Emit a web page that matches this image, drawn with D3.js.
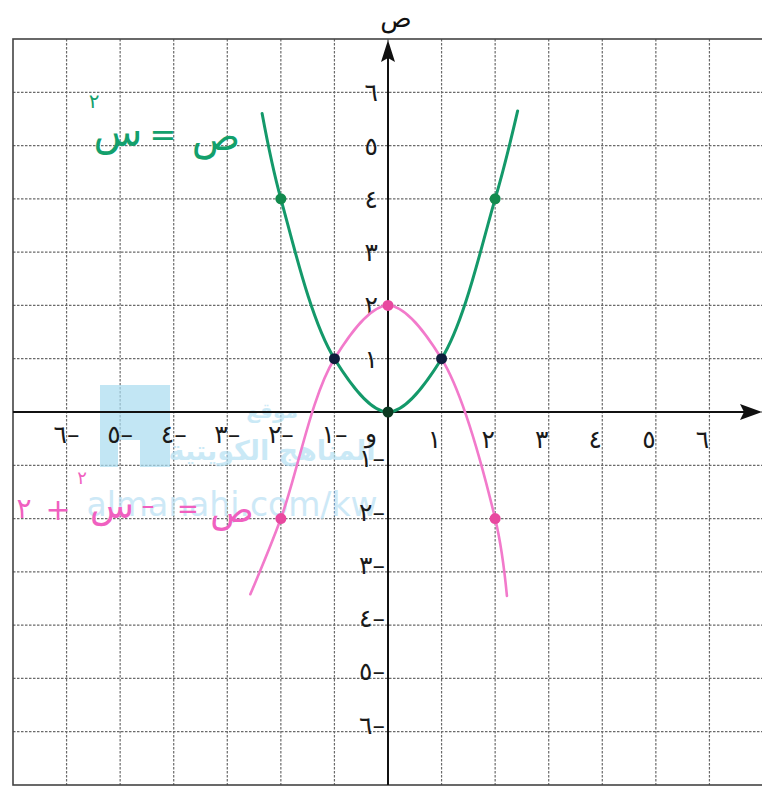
<!DOCTYPE html>
<html>
<head>
<meta charset="utf-8">
<script src="https://cdn.jsdelivr.net/npm/d3@7"></script>
<style>
  html, body { margin: 0; padding: 0; background: #fff; }
  svg { display: block; }
  text { font-family: "DejaVu Sans", "Noto Sans", sans-serif; }
</style>
</head>
<body>
<svg id="chart" width="762" height="791"></svg>
<script>
// Grid range (units) and tick values
const gridMin = -7, gridMax = 7;
const tickValues = [-6, -5, -4, -3, -2, -1, 1, 2, 3, 4, 5, 6];
const posLabels = ["١", "٢", "٣", "٤", "٥", "٦"];
const negLabels = ["١–", "٢–", "٣–", "٤–", "٥–", "٦–"];

// ص = س²  (points plotted and the hand-drawn curve through them)
const greenCurve = [[-2.35, 5.6], [-2, 4], [-1, 1], [0, 0], [1, 1], [2, 4], [2.42, 5.65]];
const greenDots = [[-2, 4], [2, 4]];
// ص = -س² + ٢
const pinkCurve = [[-2.57, -3.42], [-2, -2], [-1, 1], [0, 2], [1, 1], [2, -2], [2.22, -3.45]];
const pinkDots = [[0, 2], [-2, -2], [2, -2]];
// points shared by both curves, plus the vertex of the first
const crossDots = [[-1, 1], [1, 1]];
const vertexDots = [[0, 0]];

const svg = d3.select("#chart");
const x = d3.scaleLinear().domain([gridMin, gridMax]).range([13, 763]);
const y = d3.scaleLinear().domain([gridMax, gridMin]).range([39, 785]);

// keep digit-then-dash order on screen
const ltr = s => "\u202D" + s + "\u202C";

// dashed grid
const grid = svg.append("g");
grid.selectAll("line.v").data(d3.range(gridMin + 1, gridMax)).join("line")
  .attr("x1", d => x(d)).attr("x2", d => x(d))
  .attr("y1", y(gridMax)).attr("y2", y(gridMin))
  .attr("stroke", "#6a6a6a").attr("stroke-width", 1.2).attr("stroke-dasharray", "2.5,1.5");
grid.selectAll("line.h").data(d3.range(gridMin + 1, gridMax)).join("line")
  .attr("y1", d => y(d)).attr("y2", d => y(d))
  .attr("x1", x(gridMin)).attr("x2", x(gridMax))
  .attr("stroke", "#6a6a6a").attr("stroke-width", 1.2).attr("stroke-dasharray", "2.5,1.5");
// frame
svg.append("rect")
  .attr("x", x(gridMin)).attr("y", y(gridMax))
  .attr("width", x(gridMax) - x(gridMin)).attr("height", y(gridMin) - y(gridMax))
  .attr("fill", "none").attr("stroke", "#444").attr("stroke-width", 1.6);

// watermark
const wm = svg.append("g").attr("opacity", 0.7);
wm.append("path")
  .attr("d", "M100,385 H170 V467 H140 V440 H118 V467 H100 Z")
  .attr("fill", "#a9dcf0");
wm.append("text").attr("x", 272).attr("y", 418).attr("text-anchor", "middle")
  .attr("font-size", 20).attr("font-weight", "bold").attr("fill", "#b5e1f3").text("موقع");
wm.append("text").attr("x", 272).attr("y", 460).attr("text-anchor", "middle")
  .attr("font-size", 27).attr("font-weight", "bold").attr("fill", "#b5e1f3").text("المناهج الكويتية");
wm.append("text").attr("x", 232).attr("y", 516).attr("text-anchor", "middle")
  .attr("font-size", 33).attr("fill", "#b9e0f4").text("almanahj.com/kw");

// axes with arrowheads
const x0 = x(0), y0 = y(0);
svg.append("line").attr("x1", x(gridMin)).attr("x2", 748).attr("y1", y0).attr("y2", y0)
  .attr("stroke", "#111").attr("stroke-width", 2);
svg.append("path").attr("d", `M762,${y0} L740,${y0 - 8} L744,${y0} L740,${y0 + 8} Z`).attr("fill", "#111");
svg.append("line").attr("x1", x0).attr("x2", x0).attr("y1", y(gridMin)).attr("y2", 55)
  .attr("stroke", "#111").attr("stroke-width", 2);
svg.append("path").attr("d", `M${x0},40 L${x0 - 7},62 L${x0},58 L${x0 + 7},62 Z`).attr("fill", "#111");
svg.append("text").attr("x", x0 + 8).attr("y", 27).attr("text-anchor", "middle")
  .attr("font-size", 26).attr("fill", "#111").text("ص");

// tick labels
const lab = svg.append("g").attr("fill", "#1a1a1a").attr("font-size", 25);
tickValues.forEach(v => {
  const i = Math.abs(v) - 1;
  if (v > 0) {
    lab.append("text").attr("x", x(v) - 7).attr("y", y0 + 36).attr("text-anchor", "middle").text(posLabels[i]);
    lab.append("text").attr("x", x0 - 10).attr("y", y(v) + 9).attr("text-anchor", "end").text(posLabels[i]);
  } else {
    lab.append("text").attr("x", x(v)).attr("y", y0 + 31).attr("text-anchor", "middle")
      .attr("direction", "ltr").text(ltr(negLabels[i]));
    lab.append("text").attr("x", x0 - 3).attr("y", y(v) + 2).attr("text-anchor", "end")
      .attr("direction", "ltr").text(ltr(negLabels[i]));
  }
});
lab.append("text").attr("x", x0 - 17).attr("y", y0 + 30).attr("text-anchor", "middle").text("و");

// curves
const line = d3.line().x(d => x(d[0])).y(d => y(d[1])).curve(d3.curveCatmullRom.alpha(0.5));
svg.append("path").datum(pinkCurve).attr("d", line)
  .attr("fill", "none").attr("stroke", "#f27acb").attr("stroke-width", 2.6).attr("stroke-linecap", "round");
svg.append("path").datum(greenCurve).attr("d", line)
  .attr("fill", "none").attr("stroke", "#14996a").attr("stroke-width", 3).attr("stroke-linecap", "round");

// plotted points
const dot = (data, color) => svg.append("g").selectAll("circle").data(data).join("circle")
  .attr("cx", d => x(d[0])).attr("cy", d => y(d[1])).attr("r", 5.5).attr("fill", color);
dot(pinkDots, "#e8489f");
dot(greenDots, "#138a4e");
dot(crossDots, "#0f1e3c");
dot(vertexDots, "#0c3a22");

// equation labels
const green = svg.append("g").attr("fill", "#13a06c");
green.append("text").attr("x", 216).attr("y", 150).attr("text-anchor", "middle").attr("font-size", 40).text("ص");
green.append("text").attr("x", 163).attr("y", 146).attr("text-anchor", "middle").attr("font-size", 32).text("=");
green.append("text").attr("x", 118).attr("y", 146).attr("text-anchor", "middle").attr("font-size", 40).text("س");
green.append("text").attr("x", 94).attr("y", 108).attr("text-anchor", "middle").attr("font-size", 20).text("٢");

const pink = svg.append("g").attr("fill", "#f060c0");
pink.append("text").attr("x", 232).attr("y", 522).attr("text-anchor", "middle").attr("font-size", 36).text("ص");
pink.append("text").attr("x", 188).attr("y", 518).attr("text-anchor", "middle").attr("font-size", 26).text("=");
pink.append("text").attr("x", 148).attr("y", 514).attr("text-anchor", "middle").attr("font-size", 26).text("–");
pink.append("text").attr("x", 112).attr("y", 518).attr("text-anchor", "middle").attr("font-size", 36).text("س");
pink.append("text").attr("x", 82).attr("y", 484).attr("text-anchor", "middle").attr("font-size", 18).text("٢");
pink.append("text").attr("x", 58).attr("y", 520).attr("text-anchor", "middle").attr("font-size", 30).text("+");
pink.append("text").attr("x", 24).attr("y", 518).attr("text-anchor", "middle").attr("font-size", 28).text("٢");
</script>
</body>
</html>
